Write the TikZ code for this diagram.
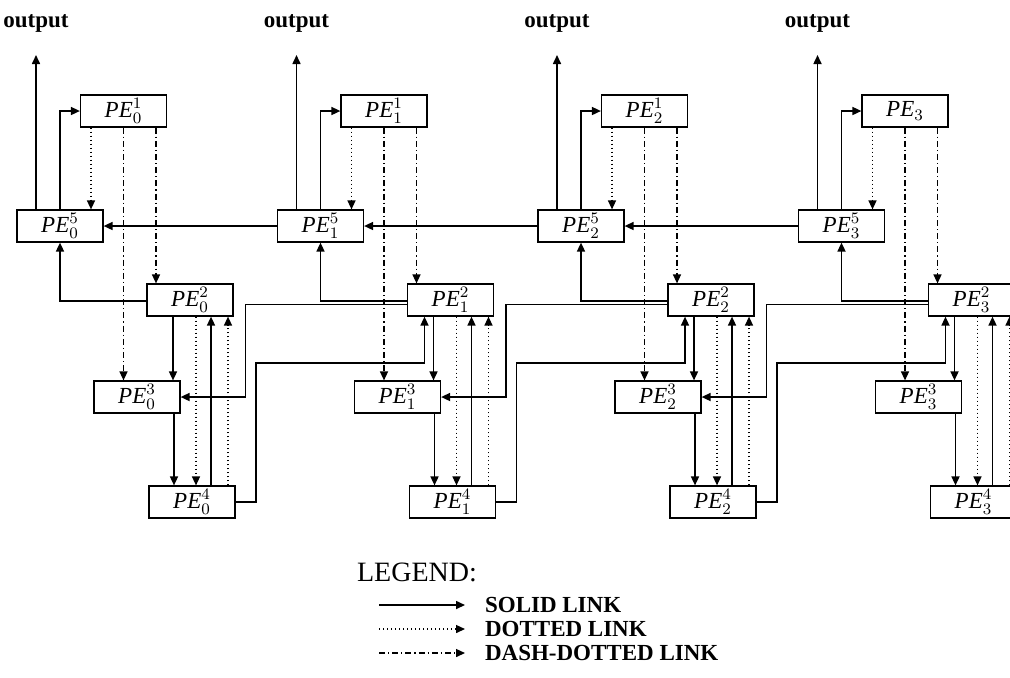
\documentclass[tikz,border=0pt]{standalone}
\usepackage{fontspec}
\setmainfont{Liberation Serif}
\usetikzlibrary{arrows.meta}
\begin{document}
\begin{tikzpicture}[x=0.5pt,y=-0.5pt]
	% Styles (MODIFIABLES)
	\tikzstyle{fleche}=[->,>={Triangle[length=4.5pt,width=4pt]},line width=0.8pt]
	\tikzstyle{pointille}=[fleche,line width=0.7pt,dash pattern=on 0.6pt off 1.4pt]
	\tikzstyle{mixte}=[fleche,line width=0.7pt,dash pattern=on 3pt off 1.5pt on 0.6pt off 1.5pt]
	\tikzstyle{boite}=[draw,line width=0.6pt,inner sep=0pt,minimum width=43pt,minimum height=16pt,font=\fontsize{11.5}{13}\selectfont]
	\tikzstyle{sortie}=[font=\fontsize{11.5}{13}\selectfont\bfseries]
	\tikzstyle{legende}=[anchor=west,font=\fontsize{11.5}{13}\selectfont\bfseries]
	% Colonnes (MODIFIABLES)
	\def\ColonneA{0}
	\def\ColonneB{260.5}
	\def\ColonneC{521}
	\def\ColonneD{781.5}
	\useasboundingbox (0,0) rectangle (1010,677);
	\clip (0,0) rectangle (1010,677);
	% Noeuds
	\node[sortie] (oA) at ({\ColonneA+36},23) {output};
	\coordinate (sA) at ({\ColonneA+36},55);
	\node[boite] (A1) at ({\ColonneA+123.5},111) {\textit{PE}$_0^1$};
	\node[boite] (A5) at ({\ColonneA+60},226) {\textit{PE}$_0^5$};
	\node[boite] (A2) at ({\ColonneA+190},300) {\textit{PE}$_0^2$};
	\node[boite] (A3) at ({\ColonneA+137},397) {\textit{PE}$_0^3$};
	\node[boite] (A4) at ({\ColonneA+192},502) {\textit{PE}$_0^4$};
	\coordinate (cA) at ({\ColonneA+256},363);
	%
	\node[sortie] (oB) at ({\ColonneB+36},23) {output};
	\coordinate (sB) at ({\ColonneB+36},55);
	\node[boite] (B1) at ({\ColonneB+123.5},111) {\textit{PE}$_1^1$};
	\node[boite] (B5) at ({\ColonneB+60},226) {\textit{PE}$_1^5$};
	\node[boite] (B2) at ({\ColonneB+190},300) {\textit{PE}$_1^2$};
	\node[boite] (B3) at ({\ColonneB+137},397) {\textit{PE}$_1^3$};
	\node[boite] (B4) at ({\ColonneB+192},502) {\textit{PE}$_1^4$};
	\coordinate (cB) at ({\ColonneB+256},363);
	%
	\node[sortie] (oC) at ({\ColonneC+36},23) {output};
	\coordinate (sC) at ({\ColonneC+36},55);
	\node[boite] (C1) at ({\ColonneC+123.5},111) {\textit{PE}$_2^1$};
	\node[boite] (C5) at ({\ColonneC+60},226) {\textit{PE}$_2^5$};
	\node[boite] (C2) at ({\ColonneC+190},300) {\textit{PE}$_2^2$};
	\node[boite] (C3) at ({\ColonneC+137},397) {\textit{PE}$_2^3$};
	\node[boite] (C4) at ({\ColonneC+192},502) {\textit{PE}$_2^4$};
	\coordinate (cC) at ({\ColonneC+256},363);
	%
	\node[sortie] (oD) at ({\ColonneD+36},23) {output};
	\coordinate (sD) at ({\ColonneD+36},55);
	\node[boite] (D1) at ({\ColonneD+123.5},111) {\textit{PE}$_3$};
	\node[boite] (D5) at ({\ColonneD+60},226) {\textit{PE}$_3^5$};
	\node[boite] (D2) at ({\ColonneD+190},300) {\textit{PE}$_3^2$};
	\node[boite] (D3) at ({\ColonneD+137},397) {\textit{PE}$_3^3$};
	\node[boite] (D4) at ({\ColonneD+192},502) {\textit{PE}$_3^4$};
	% Arcs colonne 0
	\draw[fleche] ([xshift=-12pt]A5.north) -- (sA);
	\draw[fleche] (A5.north) |- (A1.west);
	\draw[pointille] ([xshift=-16.25pt]A1.south) -- ([xshift=-16.25pt]A1.south |- A5.north);
	\draw[mixte] (A1.south) -- (A1.south |- A3.north);
	\draw[mixte] ([xshift=16.25pt]A1.south) -- ([xshift=16.25pt]A1.south |- A2.north);
	\draw[fleche] ([yshift=-0.5pt]A2.west) -| (A5.south);
	\draw[fleche] ([xshift=-8.5pt]A2.south) -- ([xshift=-8.5pt]A2.south |- A3.north);
	\draw[pointille] ([xshift=3pt]A2.south) -- ([xshift=3pt]A2.south |- A4.north);
	\draw[fleche] ([xshift=9.5pt]A4.north) -- ([xshift=9.5pt]A4.north |- A2.south);
	\draw[pointille] ([xshift=18pt]A4.north) -- ([xshift=18pt]A4.north |- A2.south);
	\draw[fleche] ([xshift=18.5pt]A3.south) -- ([xshift=18.5pt]A3.south |- A4.north);
	% Arcs colonne 1
	\draw[fleche] ([xshift=-12pt]B5.north) -- (sB);
	\draw[fleche] (B5.north) |- (B1.west);
	\draw[pointille] ([xshift=-16.25pt]B1.south) -- ([xshift=-16.25pt]B1.south |- B5.north);
	\draw[mixte] (B1.south) -- (B1.south |- B3.north);
	\draw[mixte] ([xshift=16.25pt]B1.south) -- ([xshift=16.25pt]B1.south |- B2.north);
	\draw[fleche] ([yshift=-0.5pt]B2.west) -| (B5.south);
	\draw[fleche] ([xshift=-8.5pt]B2.south) -- ([xshift=-8.5pt]B2.south |- B3.north);
	\draw[pointille] ([xshift=3pt]B2.south) -- ([xshift=3pt]B2.south |- B4.north);
	\draw[fleche] ([xshift=9.5pt]B4.north) -- ([xshift=9.5pt]B4.north |- B2.south);
	\draw[pointille] ([xshift=18pt]B4.north) -- ([xshift=18pt]B4.north |- B2.south);
	\draw[fleche] ([xshift=18.5pt]B3.south) -- ([xshift=18.5pt]B3.south |- B4.north);
	% Arcs colonne 2
	\draw[fleche] ([xshift=-12pt]C5.north) -- (sC);
	\draw[fleche] (C5.north) |- (C1.west);
	\draw[pointille] ([xshift=-16.25pt]C1.south) -- ([xshift=-16.25pt]C1.south |- C5.north);
	\draw[mixte] (C1.south) -- (C1.south |- C3.north);
	\draw[mixte] ([xshift=16.25pt]C1.south) -- ([xshift=16.25pt]C1.south |- C2.north);
	\draw[fleche] ([yshift=-0.5pt]C2.west) -| (C5.south);
	\draw[fleche] ([xshift=-8.5pt]C2.south) -- ([xshift=-8.5pt]C2.south |- C3.north);
	\draw[pointille] ([xshift=3pt]C2.south) -- ([xshift=3pt]C2.south |- C4.north);
	\draw[fleche] ([xshift=9.5pt]C4.north) -- ([xshift=9.5pt]C4.north |- C2.south);
	\draw[pointille] ([xshift=18pt]C4.north) -- ([xshift=18pt]C4.north |- C2.south);
	\draw[fleche] ([xshift=18.5pt]C3.south) -- ([xshift=18.5pt]C3.south |- C4.north);
	% Arcs colonne 3
	\draw[fleche] ([xshift=-12pt]D5.north) -- (sD);
	\draw[fleche] (D5.north) |- (D1.west);
	\draw[pointille] ([xshift=-16.25pt]D1.south) -- ([xshift=-16.25pt]D1.south |- D5.north);
	\draw[mixte] (D1.south) -- (D1.south |- D3.north);
	\draw[mixte] ([xshift=16.25pt]D1.south) -- ([xshift=16.25pt]D1.south |- D2.north);
	\draw[fleche] ([yshift=-0.5pt]D2.west) -| (D5.south);
	\draw[fleche] ([xshift=-8.5pt]D2.south) -- ([xshift=-8.5pt]D2.south |- D3.north);
	\draw[pointille] ([xshift=3pt]D2.south) -- ([xshift=3pt]D2.south |- D4.north);
	\draw[fleche] ([xshift=9.5pt]D4.north) -- ([xshift=9.5pt]D4.north |- D2.south);
	\draw[pointille] ([xshift=18pt]D4.north) -- ([xshift=18pt]D4.north |- D2.south);
	\draw[fleche] ([xshift=18.5pt]D3.south) -- ([xshift=18.5pt]D3.south |- D4.north);
	% Arcs entre colonnes
	\draw[fleche] (B5.west) -- (A5.east);
	\draw[fleche] ([yshift=-2.25pt]B2.west) -| ([xshift=32.5pt]A3.east) -- (A3.east);
	\draw[fleche] (A4.east) -| (cA) -| ([xshift=-13pt]B2.south);
	\draw[fleche] (C5.west) -- (B5.east);
	\draw[fleche] ([yshift=-2.25pt]C2.west) -| ([xshift=32.5pt]B3.east) -- (B3.east);
	\draw[fleche] (B4.east) -| (cB) -| ([xshift=-13pt]C2.south);
	\draw[fleche] (D5.west) -- (C5.east);
	\draw[fleche] ([yshift=-2.25pt]D2.west) -| ([xshift=32.5pt]C3.east) -- (C3.east);
	\draw[fleche] (C4.east) -| (cC) -| ([xshift=-13pt]D2.south);
	% Legende
	\node[font=\fontsize{14}{16}\selectfont] (leg) at (417,572) {LEGEND:};
	\coordinate (la1) at (379,605);
	\coordinate (lb1) at (465,605);
	\coordinate (la2) at (379,629);
	\coordinate (lb2) at (465,629);
	\coordinate (la3) at (379,653);
	\coordinate (lb3) at (465,653);
	\draw[fleche] (la1) -- (lb1);
	\draw[pointille] (la2) -- (lb2);
	\draw[mixte] (la3) -- (lb3);
	\node[legende] (t1) at (478,605) {SOLID LINK};
	\node[legende] (t2) at (478,629) {DOTTED LINK};
	\node[legende] (t3) at (478,653) {DASH-DOTTED LINK};
\end{tikzpicture}
\end{document}
